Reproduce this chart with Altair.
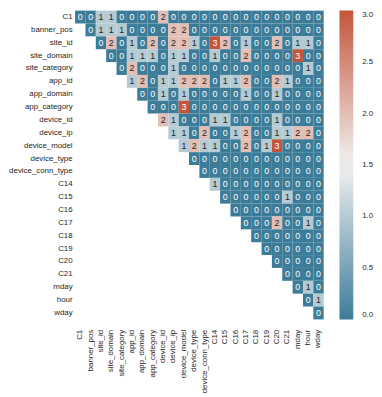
import altair as alt
import pandas as pd

variables = ["C1", "banner_pos", "site_id", "site_domain", "site_category", "app_id",
             "app_domain", "app_category", "device_id", "device_ip", "device_model",
             "device_type", "device_conn_type", "C14", "C15", "C16", "C17", "C18",
             "C19", "C20", "C21", "mday", "hour", "wday"]

# upper triangle rows (starting at the diagonal)
r_C1 = [0, 0, 1, 1, 0, 0, 0, 0, 2, 0, 0, 0, 0, 0, 0, 0, 0, 0, 0, 0, 0, 0, 0, 0]
r_banner_pos = [0, 1, 1, 1, 0, 0, 0, 0, 2, 2, 0, 0, 0, 0, 0, 0, 0, 0, 0, 0, 0, 0, 0]
r_site_id = [0, 2, 0, 1, 0, 2, 0, 2, 2, 1, 0, 3, 2, 0, 1, 0, 0, 2, 0, 1, 1, 0]
r_site_domain = [0, 0, 1, 1, 1, 0, 1, 1, 0, 0, 1, 0, 0, 2, 0, 0, 0, 0, 3, 0, 0]
r_site_category = [0, 2, 0, 0, 0, 1, 0, 0, 0, 0, 0, 0, 0, 0, 0, 0, 0, 0, 1, 0]
r_app_id = [1, 2, 0, 1, 1, 2, 2, 2, 0, 1, 1, 2, 0, 0, 2, 1, 0, 0, 0]
r_app_domain = [0, 0, 1, 0, 1, 0, 0, 0, 0, 0, 1, 0, 0, 1, 0, 0, 0, 0]
r_app_category = [0, 0, 0, 3, 0, 0, 0, 0, 0, 0, 0, 0, 0, 0, 0, 0, 0]
r_device_id = [2, 1, 0, 0, 0, 1, 1, 0, 0, 0, 0, 1, 0, 0, 0, 0]
r_device_ip = [1, 1, 0, 2, 0, 0, 1, 2, 0, 0, 1, 1, 2, 2, 0]
r_device_model = [1, 2, 1, 1, 0, 0, 2, 0, 1, 3, 0, 0, 0, 0]
r_device_type = [0, 0, 0, 0, 0, 0, 0, 0, 0, 0, 0, 0, 0]
r_device_conn_type = [0, 0, 0, 0, 0, 0, 0, 0, 0, 0, 0, 0]
r_C14 = [1, 0, 0, 0, 0, 0, 0, 0, 0, 0, 0]
r_C15 = [0, 0, 0, 0, 0, 0, 1, 0, 0, 0]
r_C16 = [0, 0, 0, 0, 0, 0, 0, 0, 0]
r_C17 = [0, 0, 0, 2, 0, 0, 1, 0]
r_C18 = [0, 0, 0, 0, 0, 0, 0]
r_C19 = [0, 0, 0, 0, 0, 0]
r_C20 = [0, 0, 0, 0, 0]
r_C21 = [0, 0, 0, 0]
r_mday = [0, 1, 0]
r_hour = [0, 1]
r_wday = [0]

rows = [r_C1, r_banner_pos, r_site_id, r_site_domain, r_site_category, r_app_id,
        r_app_domain, r_app_category, r_device_id, r_device_ip, r_device_model,
        r_device_type, r_device_conn_type, r_C14, r_C15, r_C16, r_C17, r_C18,
        r_C19, r_C20, r_C21, r_mday, r_hour, r_wday]

records = []
for i, (name, vals) in enumerate(zip(variables, rows)):
    for k, v in enumerate(vals):
        records.append({"row": name, "col": variables[i + k], "value": v})
df = pd.DataFrame(records)

FONT = "Liberation Sans"
BLUE = "#3c7c99"
MID = "#f2f2f2"
RED = "#c4553b"

color_scale = alt.Scale(domain=[0, 1.5, 3], range=[BLUE, MID, RED], interpolate="rgb")

base = alt.Chart(df).encode(
    x=alt.X("col:N", sort=variables, title=None,
            axis=alt.Axis(labelAngle=270, labelFontSize=8, labelFont=FONT,
                          labelColor="#262626", ticks=False, domain=False,
                          labelPadding=10)),
    y=alt.Y("row:N", sort=variables, title=None,
            axis=alt.Axis(labelFontSize=8, labelFont=FONT, labelColor="#262626",
                          ticks=False, domain=False, labelPadding=3)),
)

rects = base.mark_rect().encode(
    color=alt.Color("value:Q", scale=color_scale, title=None,
                    legend=alt.Legend(orient="none", legendX=268, legendY=0,
                                      direction="vertical", gradientLength=313,
                                      gradientThickness=14, gradientStrokeWidth=0,
                                      values=[0, 0.5, 1, 1.5, 2, 2.5, 3], format=".1f",
                                      labelFontSize=8, labelFont=FONT,
                                      labelColor="#262626", labelOffset=9,
                                      labelBaseline="middle", padding=0,
                                      labelOverlap=False))
)

texts = base.mark_text(fontSize=9, font=FONT).encode(
    text=alt.Text("value:Q", format="d"),
    color=alt.condition("datum.value < 0.5 || datum.value > 2.5",
                        alt.value("white"), alt.value("#262626")),
)

chart = (rects + texts).properties(
    width=252, height=313,
    padding={"left": 0, "top": 0, "right": 0, "bottom": 0},
).configure_view(stroke=None).configure_scale(bandPaddingInner=0)

chart.save("out.html", embed_options={"renderer": "svg", "actions": False})
